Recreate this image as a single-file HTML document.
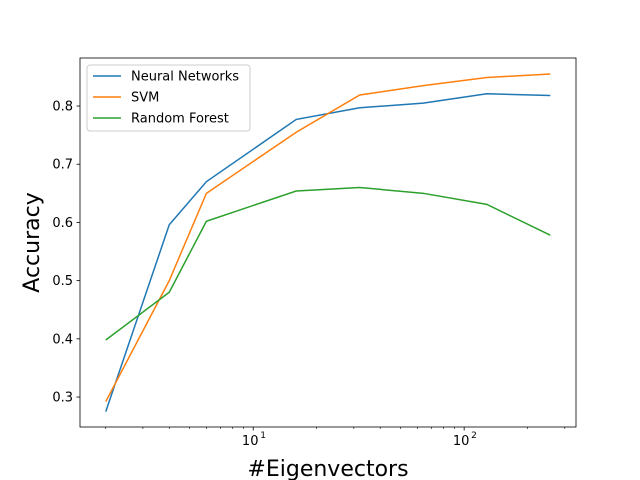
<!DOCTYPE html>
<html><head><meta charset="utf-8"><style>
body{margin:0;background:#fff}
svg{display:block;font-family:"DejaVu Sans","Liberation Sans",sans-serif}
</style></head><body>
<svg id="chart" width="640" height="480">
<g id="minor"></g><g id="plot"></g><g id="axes"></g>
</svg>
<script>
const xValues=[2,4,6,16,32,64,128,256];
const seriesNames=["Neural Networks","SVM","Random Forest"];
const nnValues=[0.275,0.596,0.670,0.777,0.797,0.805,0.821,0.818];
const svmValues=[0.292,0.500,0.650,0.755,0.819,0.835,0.849,0.855];
const rfValues=[0.398,0.480,0.602,0.654,0.660,0.650,0.631,0.578];
const yTicks=[0.3,0.4,0.5,0.6,0.7,0.8];
const xMajor=[10,100];
const xMajorLabels=["10","10"];
const colors=["#1f77b4","#ff7f0e","#2ca02c"];
const L=80,R=576,T=58,B=427;
const xmin=Math.log10(1.51),xmax=Math.log10(339),ymin=0.2485,ymax=0.8825;
const X=v=>L+(Math.log10(v)-xmin)/(xmax-xmin)*(R-L);
const Y=v=>B-(v-ymin)/(ymax-ymin)*(B-T);
const NS="http://www.w3.org/2000/svg";
function mk(tag,attrs,parent){const e=document.createElementNS(NS,tag);for(const k in attrs)e.setAttribute(k,attrs[k]);parent.appendChild(e);return e;}
const plot=document.getElementById('plot'),axes=document.getElementById('axes');
[nnValues,svmValues,rfValues].forEach((s,i)=>{
 const p=mk('polyline',{points:s.map((v,j)=>X(xValues[j])+','+Y(v)).join(' '),fill:'none',stroke:colors[i],'stroke-width':1.5},plot);
 
 
});
const frame=mk('rect',{x:L,y:T,width:R-L,height:B-T,fill:'none',stroke:'#000','stroke-width':0.8},axes);


yTicks.forEach(v=>{
 const y=Y(v);
 mk('line',{x1:L-3.5,x2:L,y1:y,y2:y,stroke:'#000','stroke-width':0.8},axes);
 const t=mk('text',{x:L-7,y:y+4.5,'text-anchor':'end','font-size':13},axes);t.textContent=v.toFixed(1);
 
 
});
for(let d=1;d<=100;d*=10)for(let k=2;k<=9;k++){const v=d*k;if(v<1.51||v>339)continue;const x=X(v);mk('line',{x1:x,x2:x,y1:B,y2:B+2,stroke:'#000','stroke-width':0.6},axes);}
xMajor.forEach((v,i)=>{
 const x=X(v);
 mk('line',{x1:x,x2:x,y1:B,y2:B+3.5,stroke:'#000','stroke-width':0.8},axes);
 const t=mk('text',{x:x-3,y:B+18,'text-anchor':'middle','font-size':13},axes);t.textContent=xMajorLabels[i];
 
 
 const e=mk('text',{x:x+7,y:B+11,'font-size':9},axes);e.textContent=String(Math.log10(v));
});
const xl=mk('text',{x:(L+R)/2,y:476,'text-anchor':'middle','font-size':22},axes);xl.textContent='#Eigenvectors';


const yl=mk('text',{x:0,y:0,'text-anchor':'middle','font-size':22,transform:`translate(39,${(T+B)/2}) rotate(-90)`},axes);yl.textContent='Accuracy';


const lg=mk('g',{},axes);


mk('rect',{x:87,y:65,width:163,height:66,rx:3,fill:'#fff','fill-opacity':0.8,stroke:'#ccc','stroke-width':1},lg);
seriesNames.forEach((n,i)=>{
 const y=76+i*21;
 mk('line',{x1:93,x2:121,y1:y,y2:y,stroke:colors[i],'stroke-width':1.5},lg);
 const t=mk('text',{x:131,y:y+4.5,'font-size':13},lg);t.textContent=n;
 
 
});
</script>
</body></html>
